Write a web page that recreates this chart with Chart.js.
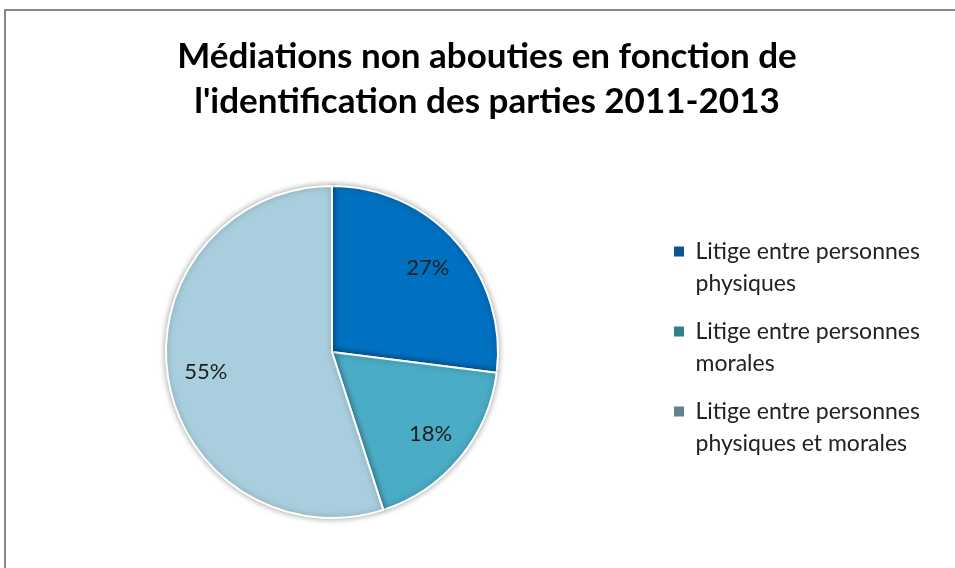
<!DOCTYPE html>
<html lang="fr">
<head>
    <meta charset="UTF-8">
    <title>Médiations non abouties en fonction de l'identification des parties 2011-2013</title>
    <script src="https://cdn.jsdelivr.net/npm/chart.js"></script>
    <style>
        html, body {
            margin: 0;
            padding: 0;
            background: #fff;
            overflow: hidden;
        }
        #frame {
            position: absolute;
            left: 4px;
            top: 9px;
            width: 1000px;
            height: 700px;
            border: 2px solid #878787;
            background: #fff;
        }
        #pieChart {
            position: absolute;
            left: 0;
            top: 0;
        }
    </style>
</head>
<body>
    <div id="frame">
        <canvas id="pieChart" width="962" height="557"></canvas>
    </div>

    <script>
        // chart data
        const titleLines = ["Médiations non abouties en fonction de", "l'identification des parties 2011-2013"];
        const categories = [
            ["Litige entre personnes", "physiques"],
            ["Litige entre personnes", "morales"],
            ["Litige entre personnes", "physiques et morales"]
        ];
        const shares = [27, 18, 55];
        const sliceColors = ["#0070C0", "#4BACC6", "#A9CFDE"];
        const legendColors = ["#0B5391", "#2F7F8C", "#62828D"];

        // percent labels inside slices
        const sliceLabels = {
            id: "sliceLabels",
            afterDatasetsDraw(chart) {
                const ctx = chart.ctx;
                const meta = chart.getDatasetMeta(0);
                ctx.save();
                ctx.font = "22px Lato";
                ctx.fillStyle = "#1e1e1e";
                ctx.textAlign = "center";
                ctx.textBaseline = "middle";
                meta.data.forEach((arc, i) => {
                    const p = arc.getProps(["x", "y", "startAngle", "endAngle", "outerRadius"], true);
                    const mid = (p.startAngle + p.endAngle) / 2;
                    const r = p.outerRadius * 0.77;
                    ctx.fillText(shares[i] + "%", p.x + Math.cos(mid) * r, p.y + Math.sin(mid) * r);
                });
                ctx.restore();
            }
        };

        // soft shadow round the slices
        const sliceShadow = {
            id: "sliceShadow",
            beforeDatasetsDraw(chart) {
                const ctx = chart.ctx;
                ctx.save();
                ctx.shadowColor = "rgba(0,0,0,0.35)";
                ctx.shadowBlur = 6;
            },
            afterDatasetsDraw(chart) {
                chart.ctx.restore();
            }
        };

        // legend keeps a fixed width, like the original chart's legend area
        const legendWidth = {
            id: "legendWidth",
            afterInit(chart) {
                const legend = chart.legend;
                const fit = legend.fit.bind(legend);
                legend.fit = function () {
                    fit();
                    this.width = 310;
                };
            }
        };

        const ctx = document.getElementById("pieChart").getContext("2d");
        new Chart(ctx, {
            type: "pie",
            data: {
                labels: categories,
                datasets: [{
                    data: shares,
                    backgroundColor: sliceColors,
                    borderColor: "#ffffff",
                    borderWidth: 2
                }]
            },
            options: {
                responsive: false,
                animation: false,
                layout: {
                    padding: { left: 0, right: 0, top: 0, bottom: 49 }
                },
                plugins: {
                    title: {
                        display: true,
                        text: titleLines,
                        color: "#000",
                        font: { family: "Lato", size: 35, weight: "bold", lineHeight: 1.2857 },
                        padding: { top: 23, bottom: 61 }
                    },
                    legend: {
                        position: "right",
                        fullSize: false,
                        labels: {
                            color: "#222",
                            font: { family: "Lato", size: 23, lineHeight: 1.391 },
                            boxWidth: 10,
                            boxHeight: 10,
                            padding: 16,
                            generateLabels(chart) {
                                const items = Chart.overrides.pie.plugins.legend.labels.generateLabels(chart);
                                items.forEach((item, i) => {
                                    item.fillStyle = legendColors[i];
                                    item.lineWidth = 0;
                                    item.strokeStyle = legendColors[i];
                                });
                                return items;
                            }
                        }
                    },
                    tooltip: { enabled: false }
                }
            },
            plugins: [legendWidth, sliceShadow, sliceLabels]
        });
    </script>
</body>
</html>
